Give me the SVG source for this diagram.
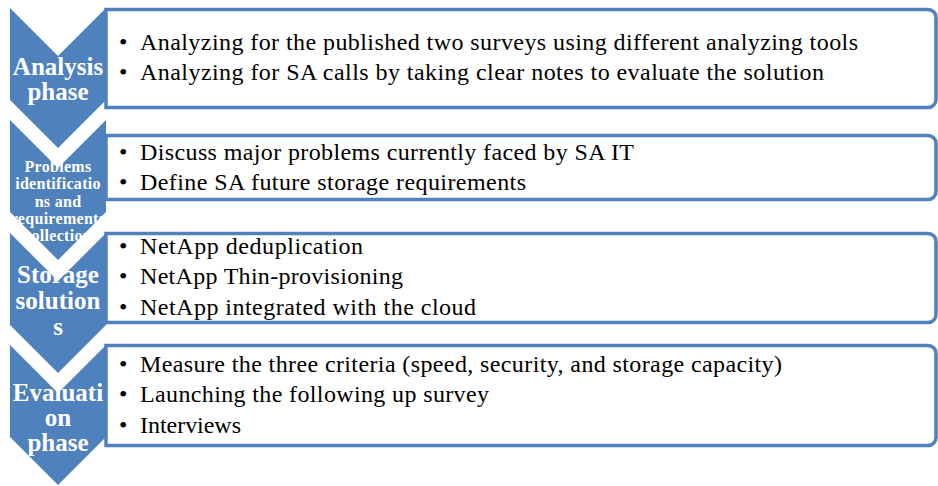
<svg xmlns="http://www.w3.org/2000/svg" width="938" height="486" viewBox="0 0 938 486">
<style>
.box{fill:#fff;stroke:#4F81BD;stroke-width:3.5}
.chev{fill:#4F81BD}
.ct{font-family:"Liberation Serif","Times New Roman",serif;font-weight:bold;fill:#fff;text-anchor:middle}
.big{font-size:25px}
.small{font-size:16px;letter-spacing:0.3px}
.bt{font-family:"Liberation Serif","Times New Roman",serif;font-size:24px;fill:#000}
</style>
<rect width="938" height="486" fill="#fff"/>
<g id="row1">
<path class="box" d="M106,9.5 H928 A8,8 0 0 1 936,17.5 V99.5 A8,8 0 0 1 928,107.5 H106 Z"/>
<text class="bt" x="119" y="50">•</text><text class="bt" x="140" y="50" textLength="718" lengthAdjust="spacing">Analyzing for the published two surveys using different analyzing tools</text>
<text class="bt" x="119" y="80">•</text><text class="bt" x="140" y="80" textLength="684" lengthAdjust="spacing">Analyzing for SA calls by taking clear notes to evaluate the solution</text>
</g>
<g id="row2">
<path class="box" d="M106,135.5 H928 A8,8 0 0 1 936,143.5 V191.5 A8,8 0 0 1 928,199.5 H106 Z"/>
<text class="bt" x="119" y="160">•</text><text class="bt" x="140" y="160" textLength="494" lengthAdjust="spacing">Discuss major problems currently faced by SA IT</text>
<text class="bt" x="119" y="190">•</text><text class="bt" x="140" y="190" textLength="386" lengthAdjust="spacing">Define SA future storage requirements</text>
</g>
<g id="row3">
<path class="box" d="M106,233.5 H928 A8,8 0 0 1 936,241.5 V314.5 A8,8 0 0 1 928,322.5 H106 Z"/>
<text class="bt" x="119" y="254">•</text><text class="bt" x="140" y="254" textLength="223" lengthAdjust="spacing">NetApp deduplication</text>
<text class="bt" x="119" y="284">•</text><text class="bt" x="140" y="284" textLength="263" lengthAdjust="spacing">NetApp Thin-provisioning</text>
<text class="bt" x="119" y="315">•</text><text class="bt" x="140" y="315" textLength="336" lengthAdjust="spacing">NetApp integrated with the cloud</text>
</g>
<g id="row4">
<path class="box" d="M106,345.5 H928 A8,8 0 0 1 936,353.5 V437.5 A8,8 0 0 1 928,445.5 H106 Z"/>
<text class="bt" x="119" y="372">•</text><text class="bt" x="140" y="372" textLength="642" lengthAdjust="spacing">Measure the three criteria (speed, security, and storage capacity)</text>
<text class="bt" x="119" y="402">•</text><text class="bt" x="140" y="402" textLength="349" lengthAdjust="spacing">Launching the following up survey</text>
<text class="bt" x="119" y="433">•</text><text class="bt" x="140" y="433" textLength="101" lengthAdjust="spacing">Interviews</text>
</g>
<g id="chevrons">
<path id="chev1" class="chev" d="M10,8 L58,56 L106,8 V100 L58,148 L10,100 Z"/>
<path id="chev2" class="chev" d="M10,120 L58,168 L106,120 V212 L58,260 L10,212 Z"/>
<path id="chev3" class="chev" d="M10,233 L58,281 L106,233 V325 L58,373 L10,325 Z"/>
<path id="chev4" class="chev" d="M10,345 L58,393 L106,345 V437 L58,485 L10,437 Z"/>
</g>
<g id="chevron-labels">
<text class="ct big" x="58" y="75">Analysis</text>
<text class="ct big" x="58" y="100">phase</text>
<text class="ct small" x="58" y="172">Problems</text>
<text class="ct small" x="58" y="189">identificatio</text>
<text class="ct small" x="58" y="207">ns and</text>
<text class="ct small" x="58" y="224">requirements</text>
<text class="ct small" x="58" y="241">collection</text>
<text class="ct big" x="58" y="283">Storage</text>
<text class="ct big" x="58" y="309">solution</text>
<text class="ct big" x="58" y="335">s</text>
<text class="ct big" x="58" y="401">Evaluati</text>
<text class="ct big" x="58" y="426">on</text>
<text class="ct big" x="58" y="451">phase</text>
</g>
</svg>
